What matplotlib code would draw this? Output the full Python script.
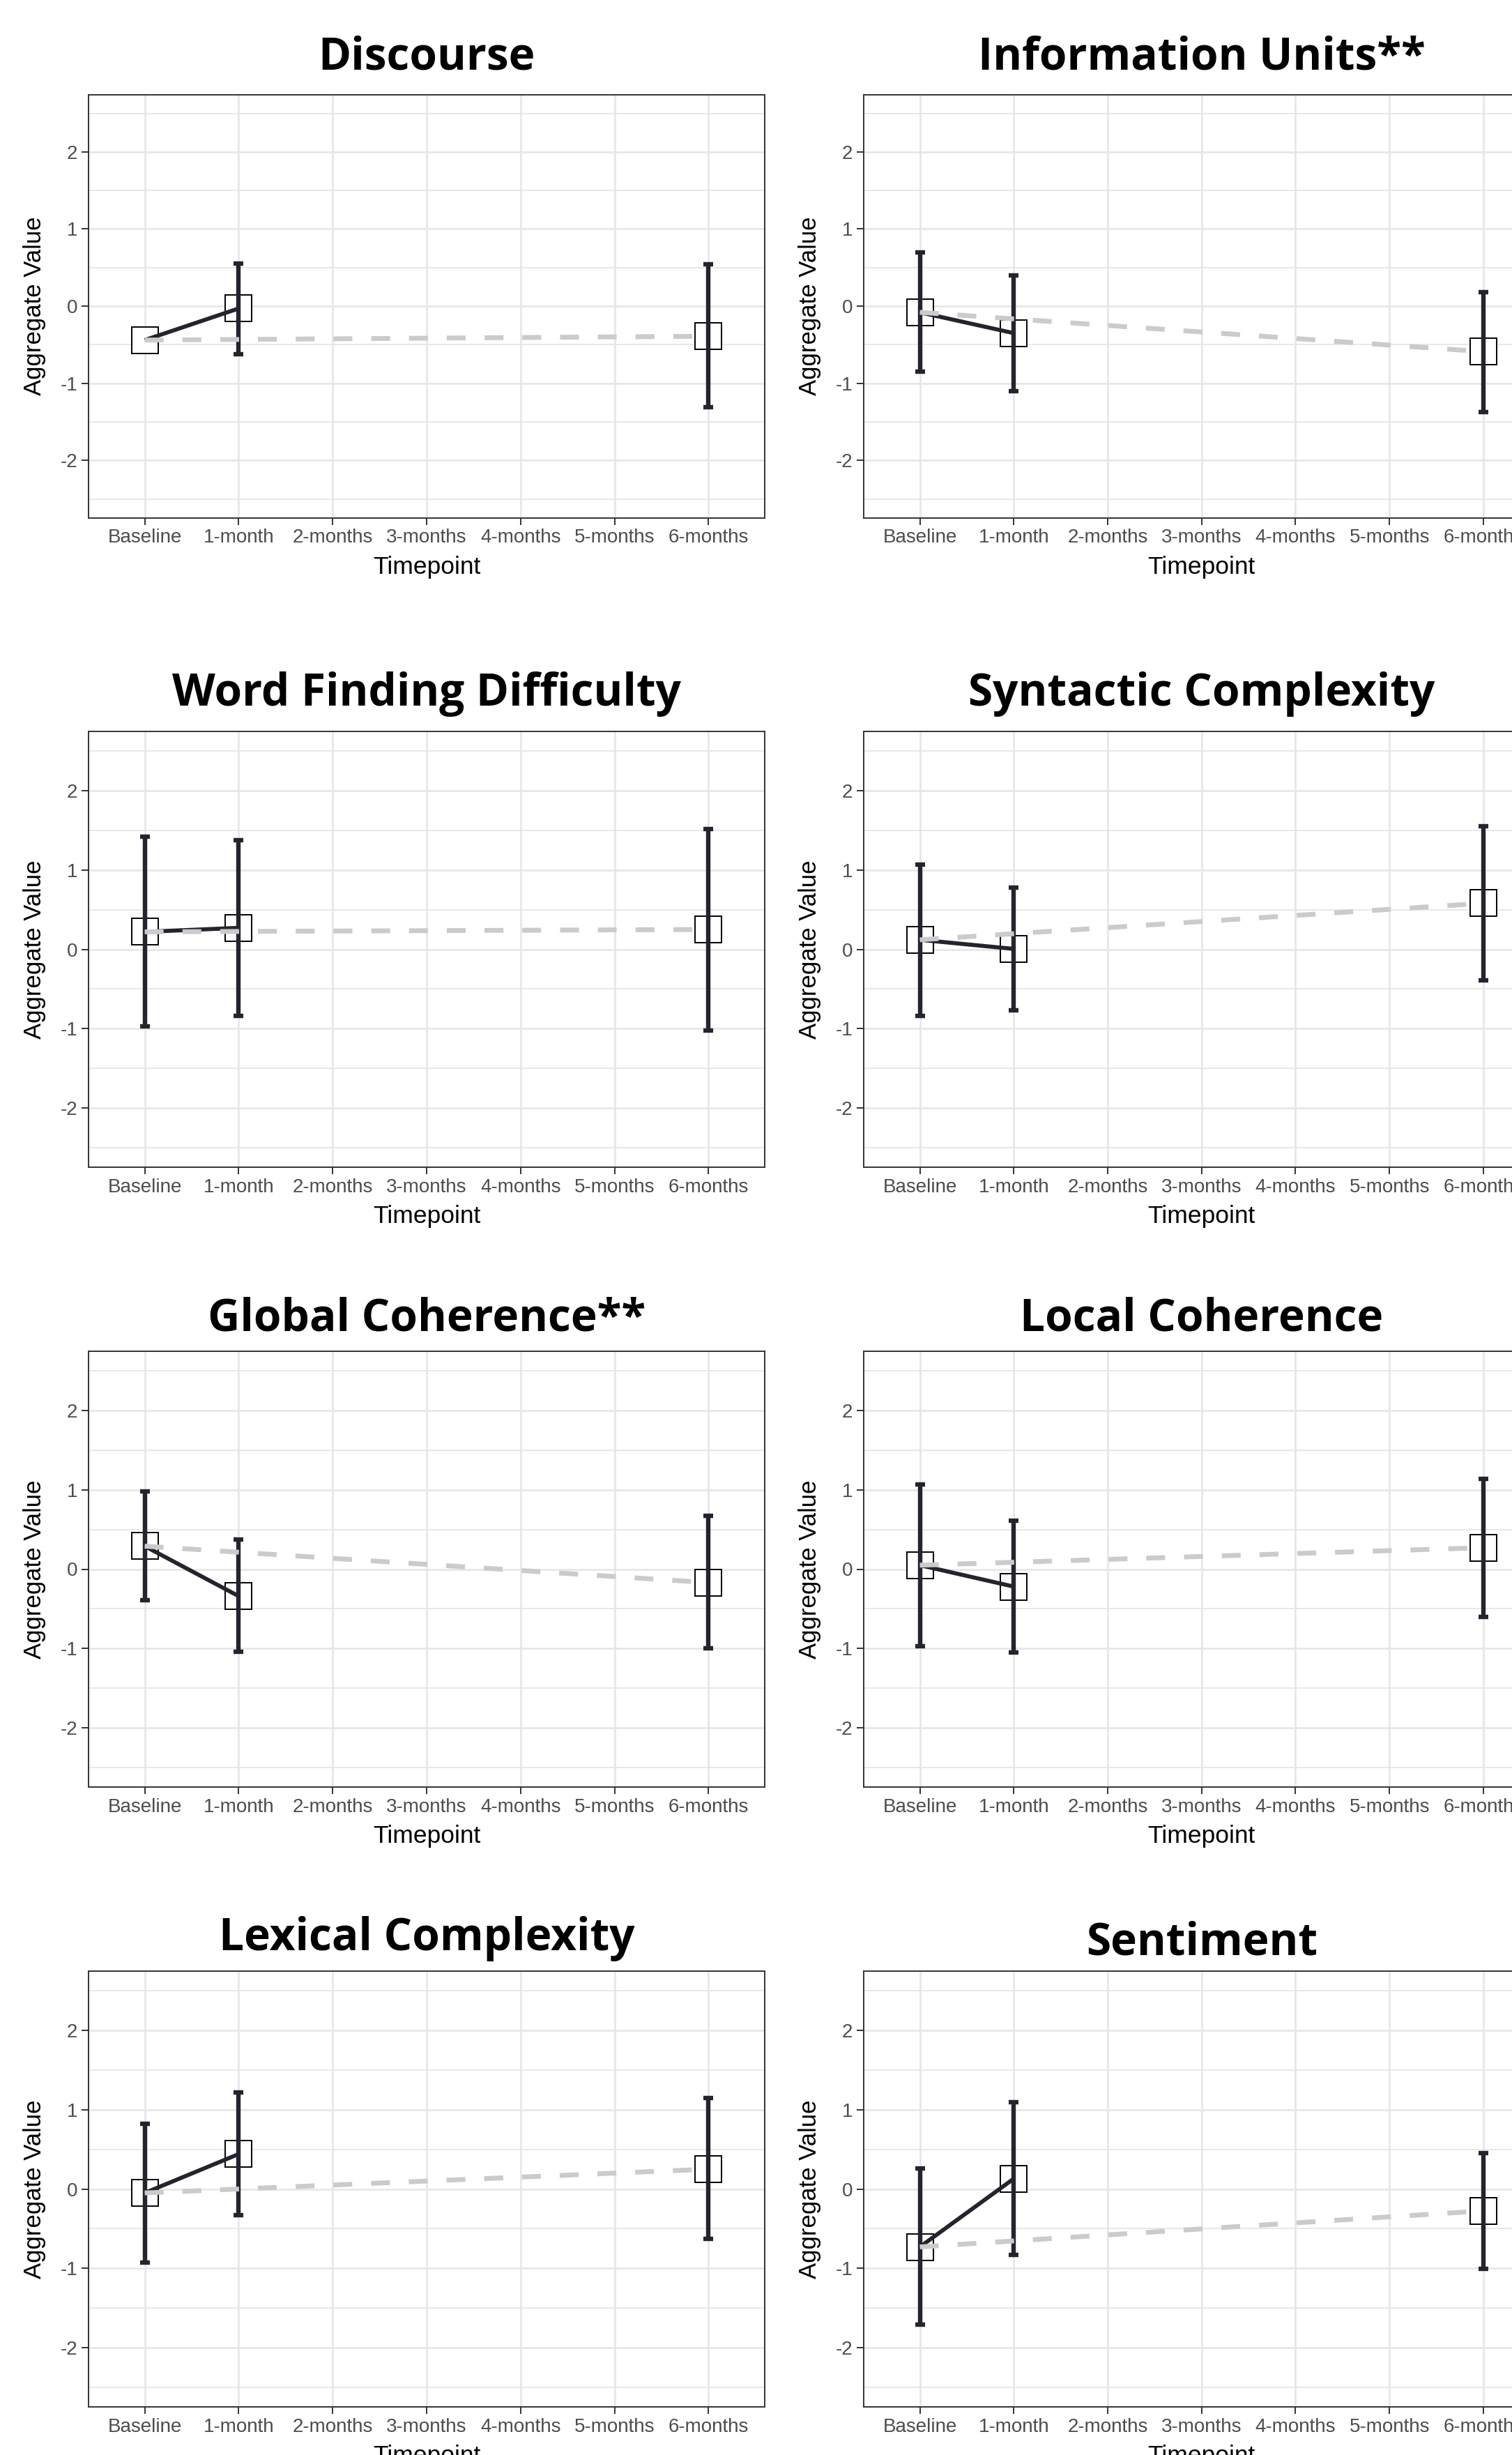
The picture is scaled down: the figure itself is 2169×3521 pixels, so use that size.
import numpy as np
import matplotlib
matplotlib.use("Agg")
import matplotlib.pyplot as plt
from matplotlib.ticker import MultipleLocator

# ---------------- data ----------------
timepoints = ["Baseline", "1-month", "2-months", "3-months", "4-months", "5-months", "6-months"]
observed_idx = [0, 1, 6]  # Baseline, 1-month, 6-months

titles = ["Discourse", "Information Units**", "Word Finding Difficulty", "Syntactic Complexity",
          "Global Coherence**", "Local Coherence", "Lexical Complexity", "Sentiment"]

nan = np.nan
discourse_mean = [-0.44, -0.03, -0.39]
discourse_lo = [nan, -0.62, -1.31]
discourse_hi = [nan, 0.55, 0.54]

info_units_mean = [-0.08, -0.35, -0.59]
info_units_lo = [-0.85, -1.10, -1.375]
info_units_hi = [0.70, 0.395, 0.185]

word_finding_mean = [0.22, 0.27, 0.25]
word_finding_lo = [-0.97, -0.84, -1.02]
word_finding_hi = [1.42, 1.375, 1.515]

syntactic_mean = [0.12, 0.005, 0.58]
syntactic_lo = [-0.835, -0.77, -0.39]
syntactic_hi = [1.07, 0.775, 1.55]

global_coh_mean = [0.29, -0.34, -0.17]
global_coh_lo = [-0.39, -1.04, -1.00]
global_coh_hi = [0.98, 0.37, 0.675]

local_coh_mean = [0.05, -0.22, 0.27]
local_coh_lo = [-0.97, -1.05, -0.605]
local_coh_hi = [1.07, 0.61, 1.14]

lexical_mean = [-0.05, 0.44, 0.25]
lexical_lo = [-0.925, -0.327, -0.632]
lexical_hi = [0.817, 1.217, 1.144]

sentiment_mean = [-0.73, 0.13, -0.275]
sentiment_lo = [-1.71, -0.834, -1.006]
sentiment_hi = [0.26, 1.09, 0.456]

means = [discourse_mean, info_units_mean, word_finding_mean, syntactic_mean,
         global_coh_mean, local_coh_mean, lexical_mean, sentiment_mean]
lows = [discourse_lo, info_units_lo, word_finding_lo, syntactic_lo,
        global_coh_lo, local_coh_lo, lexical_lo, sentiment_lo]
highs = [discourse_hi, info_units_hi, word_finding_hi, syntactic_hi,
         global_coh_hi, local_coh_hi, lexical_hi, sentiment_hi]

# ---------------- layout (pixels) ----------------
W, H = 2169, 3521
fig = plt.figure(figsize=(W / 100, H / 100), dpi=100)
fig.patch.set_facecolor("white")

col_x = [(126.7, 1097.3), (1238.7, 2208.8)]
row_y = [(135.5, 742.7), (1049, 1674), (1938, 2563), (2827, 3452)]
title_base = [[100, 100], [1012, 1012], [1908, 1908], [2797, 2804]]
ylab_x = [50, 1161]

DARK = "#24242f"
GRID = "#e6e6e6"
TICKC = "#4d4d4d"
TXT = "Liberation Sans"

for i in range(8):
    r, c = divmod(i, 2)
    x0, x1 = col_x[c]
    y0, y1 = row_y[r]
    ax = fig.add_axes([x0 / W, 1 - y1 / H, (x1 - x0) / W, (y1 - y0) / H])
    ax.set_xlim(-0.6, 6.6)
    ax.set_ylim(-2.745, 2.745)
    ax.set_xticks(range(len(timepoints)))
    ax.set_xticklabels(timepoints)
    ax.yaxis.set_major_locator(MultipleLocator(1))
    ax.yaxis.set_minor_locator(MultipleLocator(0.5))
    ax.set_yticklabels([str(int(v)) if v != 0 else "0" for v in ax.get_yticks()])
    ax.grid(True, which="major", color=GRID, lw=1.9, zorder=0)
    ax.grid(True, which="minor", axis="y", color=GRID, lw=1.3, zorder=0)
    ax.set_axisbelow(True)
    for s in ax.spines.values():
        s.set_color("#333333")
        s.set_linewidth(1.4)
    ax.tick_params(which="major", length=7.2, width=1.4, color="#333333", pad=4,
                   labelsize=20, labelcolor=TICKC)
    ax.tick_params(which="minor", length=0)
    for lab in ax.get_xticklabels() + ax.get_yticklabels():
        lab.set_fontfamily(TXT)

    m = np.array(means[i], dtype=float)
    lo = np.array(lows[i], dtype=float)
    hi = np.array(highs[i], dtype=float)
    xs = np.array(observed_idx)

    # squares
    ax.plot(xs, m, ls="none", marker="s", ms=27, mfc="white", mec="black", mew=1.4, zorder=3)
    # error bars
    ok = ~np.isnan(lo)
    ax.errorbar(xs[ok], m[ok], yerr=[m[ok] - lo[ok], hi[ok] - m[ok]], fmt="none",
                ecolor=DARK, elinewidth=4.6, capsize=5, capthick=4.6, zorder=4)
    # solid line baseline -> 1-month
    ax.plot(xs[:2], m[:2], color=DARK, lw=4.2, solid_capstyle="butt", zorder=5)
    # dashed line baseline -> 6-months
    ax.plot([xs[0], xs[2]], [m[0], m[2]], color="#cbcbcb", lw=5,
            linestyle=(0, (3.9, 3.9)), dash_capstyle="butt", zorder=6)

    cx = (x0 + x1) / 2
    fig.text(cx / W, 1 - title_base[r][c] / H, titles[i], ha="center", va="baseline",
             fontsize=46, fontweight="bold", family="Open Sans", color="black")
    fig.text(cx / W, 1 - (y1 + 80) / H, "Timepoint", ha="center", va="baseline",
             fontsize=25.5, family=TXT, color="black")
    fig.text(ylab_x[c] / W, 1 - ((y0 + y1) / 2) / H, "Aggregate Value", ha="center",
             va="center", rotation=90, fontsize=25, family=TXT, color="black")

fig.savefig("out.png", dpi=100)
